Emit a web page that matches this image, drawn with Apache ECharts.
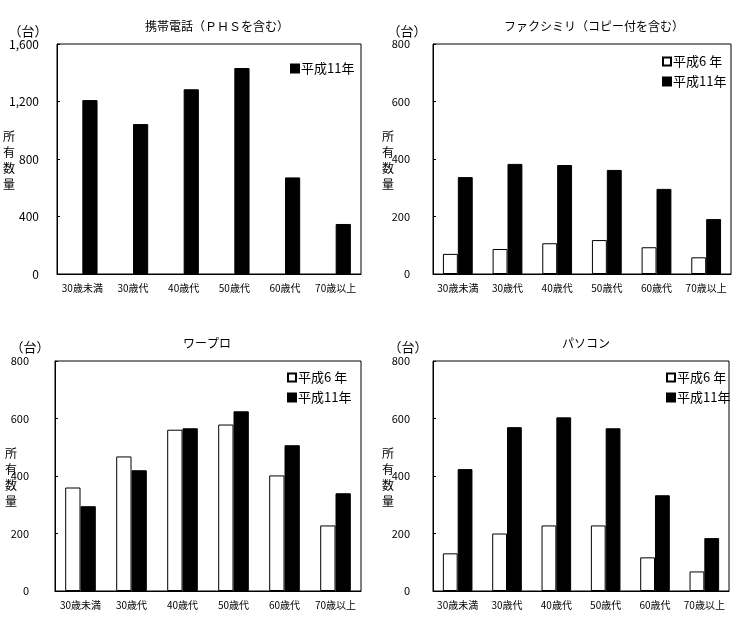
<!DOCTYPE html>
<html><head><meta charset="utf-8">
<script src="https://cdn.jsdelivr.net/npm/echarts@6/dist/echarts.min.js"></script>
<style>html,body{margin:0;padding:0;background:#fff}#c{width:741px;height:617px}</style>
</head><body><div id="c"></div>
<script>
const categories = ['30歳未満','30歳代','40歳代','50歳代','60歳代','70歳以上'];
const seriesNames = ['平成6 年','平成11年'];
const titles = ['携帯電話（ＰＨＳを含む）','ファクシミリ（コピー付を含む）','ワープロ','パソコン'];
const mobileH6 = [null,null,null,null,null,null];
const mobileH11 = [1210,1043,1285,1433,672,348];
const faxH6 = [70,87,107,118,93,58];
const faxH11 = [337,383,379,362,296,191];
const wpH6 = [360,468,561,579,402,228];
const wpH11 = [295,420,566,625,507,340];
const pcH6 = [131,200,228,228,117,68];
const pcH11 = [424,570,604,566,333,184];
const yMax = [1600,800,800,800];
const yStep = [400,200,200,200];

const FONT = '"Noto Sans CJK JP", "Noto Sans", sans-serif';
const grids = [
  {left:57, top:44, width:304, height:230},
  {left:433, top:44, width:298, height:230},
  {left:55, top:361, width:306, height:230},
  {left:433, top:361, width:296, height:230}
];
const yLabelFont = [12,11,11,11];
const yLabelMargin = [18,23,26,23];
const dataSets = [[mobileH6,mobileH11],[faxH6,faxH11],[wpH6,wpH11],[pcH6,pcH11]];

const option = {
  animation:false,
  textStyle:{fontFamily:FONT,color:'#000'},
  grid: grids.map(g=>Object.assign({show:true,borderColor:'#000',borderWidth:1,backgroundColor:'#fff',containLabel:false},g)),
  xAxis: grids.map((g,i)=>({
    type:'category', gridIndex:i, data:categories,
    axisLine:{lineStyle:{color:'#000',width:1}},
    axisTick:{inside:true,length:3,lineStyle:{color:'#000'}},
    axisLabel:{color:'#000',fontSize:10,margin:9,fontFamily:FONT,interval:0},
    splitLine:{show:false}
  })),
  yAxis: grids.map((g,i)=>({
    type:'value', gridIndex:i, min:0, max:yMax[i], interval:yStep[i],
    axisLine:{show:true,lineStyle:{color:'#000',width:1}},
    axisTick:{show:true,inside:true,length:3,lineStyle:{color:'#000'}},
    axisLabel:{color:'#000',fontSize:yLabelFont[i],margin:yLabelMargin[i],fontFamily:FONT,
      formatter:v=>v.toLocaleString('en-US')},
    splitLine:{show:false}
  })),
  legend: [
    {data:[seriesNames[1]], left:290, top:62},
    {data:seriesNames, left:662, top:55},
    {data:seriesNames, left:287, top:371},
    {data:seriesNames, left:666, top:371}
  ].map(l=>Object.assign({orient:'vertical',itemWidth:8,itemHeight:8,itemGap:7,padding:0,
    textStyle:{fontSize:13,color:'#000',fontFamily:FONT,padding:[0,0,0,-3]},icon:'rect'},l)),
  series: [],
  graphic: []
};

dataSets.forEach((ds,i)=>{
  option.series.push({
    type:'bar', name:seriesNames[0], xAxisIndex:i, yAxisIndex:i, data:ds[0],
    barGap:'0%', barCategoryGap:'40%',
    itemStyle:{color:'#fff',borderColor:'#000',borderWidth:1}
  });
  option.series.push({
    type:'bar', name:seriesNames[1], xAxisIndex:i, yAxisIndex:i, data:ds[1],
    barGap:'0%', barCategoryGap:'40%',
    itemStyle:{color:'#000',borderColor:'#000',borderWidth:1}
  });
});

const titlePos = [[217,26],[594,26],[207,343],[586,343]];
const unitPos = [[28,31],[407,31],[30,347],[408,347]];
const ylabPos = [[9,160],[388,160],[11,477],[388,477]];
titles.forEach((t,i)=>{
  option.graphic.push({type:'text',x:titlePos[i][0],y:titlePos[i][1],
    style:{text:t,fontSize:12,fontFamily:FONT,fill:'#000',align:'center',verticalAlign:'middle'}});
  option.graphic.push({type:'text',x:unitPos[i][0],y:unitPos[i][1],
    style:{text:'（台）',fontSize:13,fontFamily:FONT,fill:'#000',align:'center',verticalAlign:'middle'}});
  option.graphic.push({type:'text',x:ylabPos[i][0],y:ylabPos[i][1],
    style:{text:'所\n有\n数\n量',fontSize:12,lineHeight:16,fontFamily:FONT,fill:'#000',align:'center',verticalAlign:'middle'}});
});

const chart = echarts.init(document.getElementById('c'),null,{renderer:'canvas'});
chart.setOption(option);
</script>
</body></html>
